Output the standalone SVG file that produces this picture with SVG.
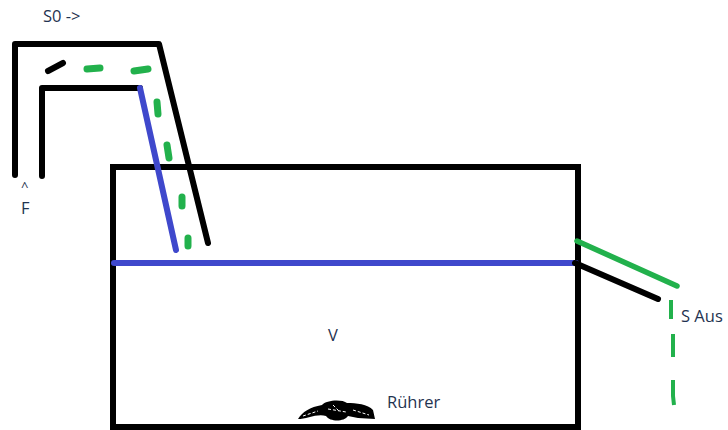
<svg xmlns="http://www.w3.org/2000/svg" width="728" height="430" viewBox="0 0 728 430">
<style>
.k{fill:none;stroke:#000;stroke-width:6;stroke-linecap:round;stroke-linejoin:round}
.b{fill:none;stroke:#3f48cc;stroke-width:6;stroke-linecap:round;stroke-linejoin:round}
.g{fill:none;stroke:#22b14c;stroke-width:5.5;stroke-linecap:round;stroke-linejoin:round}
.d{fill:none;stroke:#22b14c;stroke-width:7;stroke-linecap:round;stroke-linejoin:round}
.s{fill:none;stroke:#22b14c;stroke-width:4;stroke-linecap:butt}
text{font-family:"Open Sans","Noto Sans",sans-serif;font-size:16.5px;fill:#1f3350}
</style>
<rect width="728" height="430" fill="#fff"/>
<g id="tank"><rect x="113" y="167" width="465" height="260" fill="none" stroke="#000" stroke-width="6"/></g>
<g id="connectors">
<path class="k" d="M15 175V44H159L208 243"/>
<path class="k" d="M42 176V88H140"/>
<path class="k" d="M48 71L63 63"/>
<path class="b" d="M140 88L176 250"/>
<path class="b" d="M114 263H576"/>
<path class="k" d="M575 263L658 299"/>
<path class="g" d="M577 241L677 286"/>
<path class="d" d="M87 69L100 68M134 71L148 69M157 102L158 114M167 145L169 158M182 197L182 206M188 238L188 246"/>
<path class="s" d="M671 300V319M673 334V357M673 380V396L674 405"/>
</g>
<g id="stirrer">
<path d="M298 419C302 412 310 407 322 405C326 400 342 399 347 403C356 403 368 404 373 410L375 419L358 418L348 416C344 422 330 422 326 416C318 413 306 419 298 419Z" fill="#000"/>
<path d="M303 416L318 411M353 410L369 415M333 405L340 412M328 409L346 412" stroke="#fff" stroke-width="1" fill="none" stroke-dasharray="3 2"/>
</g>
<g id="labels">
<text x="43" y="22">S0 -&gt;</text>
<text x="21" y="191" style="font-size:13px">^</text>
<text x="21" y="213.5">F</text>
<text x="328" y="341">V</text>
<text x="387" y="408">Rührer</text>
<text x="681" y="322">S Aus</text>
</g>
</svg>
